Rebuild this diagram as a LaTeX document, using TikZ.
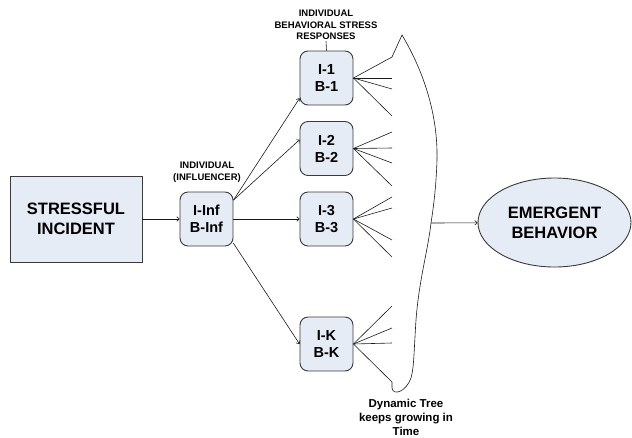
\documentclass[tikz,border=0pt]{standalone}
\usepackage{fontspec}
\setmainfont{Liberation Sans}
\usepackage{tikz}
\usetikzlibrary{arrows.meta,positioning,shapes.geometric}
\definecolor{boxfill}{HTML}{E6ECF6}
\definecolor{ink}{HTML}{1A1A1A}
\definecolor{edge}{HTML}{3A3A3A}
\tikzset{
  incidentbox/.style={draw=edge,fill=boxfill,line width=0.9pt,
                      minimum width=132pt,minimum height=86pt,align=center,
                      inner sep=2pt,font=\fontsize{16.5}{20}\selectfont\bfseries},
  agentbox/.style={draw=edge,fill=boxfill,line width=0.9pt,rounded corners=8pt,
                   minimum width=53pt,minimum height=54pt,align=center,
                   inner sep=1pt,font=\fontsize{14.5}{17}\selectfont\bfseries},
  outcome/.style={ellipse,draw=edge,fill=boxfill,line width=0.9pt,
                  minimum width=153pt,minimum height=89pt,align=center,
                  inner sep=0pt,font=\fontsize{16.5}{20}\selectfont\bfseries},
  smalllabel/.style={align=center,inner sep=1pt,
                     font=\fontsize{9.5}{11.5}\selectfont\bfseries},
  treelabel/.style={align=center,inner sep=1pt,
                    font=\fontsize{11.5}{14}\selectfont\bfseries},
  thinarr/.style={-{To[length=3pt,width=5pt]},line width=0.6pt,draw=ink},
  fanline/.style={line width=0.6pt,draw=ink}
}

\begin{document}
\begin{tikzpicture}[x=1pt,y=-1pt]
    \path[use as bounding box] (0,0) rectangle (632,437);

    \node[incidentbox] (incident) at (76,219) {STRESSFUL\\INCIDENT};
    \node[agentbox] (inf) at (206.5,219) {I-Inf\\B-Inf};
    \node[smalllabel] (inflabel) at (207,172) {INDIVIDUAL\\(INFLUENCER)};

    \foreach \id/\y in {1/78,2/148.5,3/219,K/344}
      \node[agentbox] (r\id) at (326.5,\y) {I-\id\\B-\id};
    \node[smalllabel] (resplabel) at (326,25)
      {INDIVIDUAL\\BEHAVIORAL STRESS\\RESPONSES};
    \draw[fanline] (resplabel.south) -- (r1.north);

    \node[outcome] (emergent) at (554.5,222.5) {EMERGENT\\BEHAVIOR};
    \node[treelabel] (treelabel) at (406,417)
      {Dynamic Tree\\keeps growing in\\Time};

    \draw[thinarr] (incident) -- (inf);
    \draw[thinarr] (inf.35) -- (r1.217);
    \draw[thinarr] (inf.35) -- (r2.162);
    \draw[thinarr] (inf) -- (r3);
    \draw[thinarr] (inf.-42) -- (rK.west);

    % branches of each response
    \foreach \id/\ends in {1/{57,78,89,116},2/{132,148,163,186},
                           3/{197,208,240,257},K/{306,328,343,382}} {
      \foreach \y [count=\n] in \ends {
        \coordinate (f\id-\n) at (392,\y);
        \draw[fanline] (r\id.east) -- (f\id-\n);
      }
    }

    % outline of the growing tree
    \coordinate (tip) at (402,35);
    \coordinate (treeout) at (431,223);
    \draw[fanline] (f1-1) -- (tip)
      .. controls (424,72) and (438,115) .. (437,160)
      .. controls (436,190) and (433,210) .. (treeout)
      .. controls (428,250) and (419,280) .. (416,320)
      .. controls (414,350) and (414,368) .. (411,378)
      .. controls (406,392) and (393,396) .. (392,388) -- (fK-4);
    \draw[thinarr] (treeout) -- (emergent);
  \end{tikzpicture}
\end{document}
